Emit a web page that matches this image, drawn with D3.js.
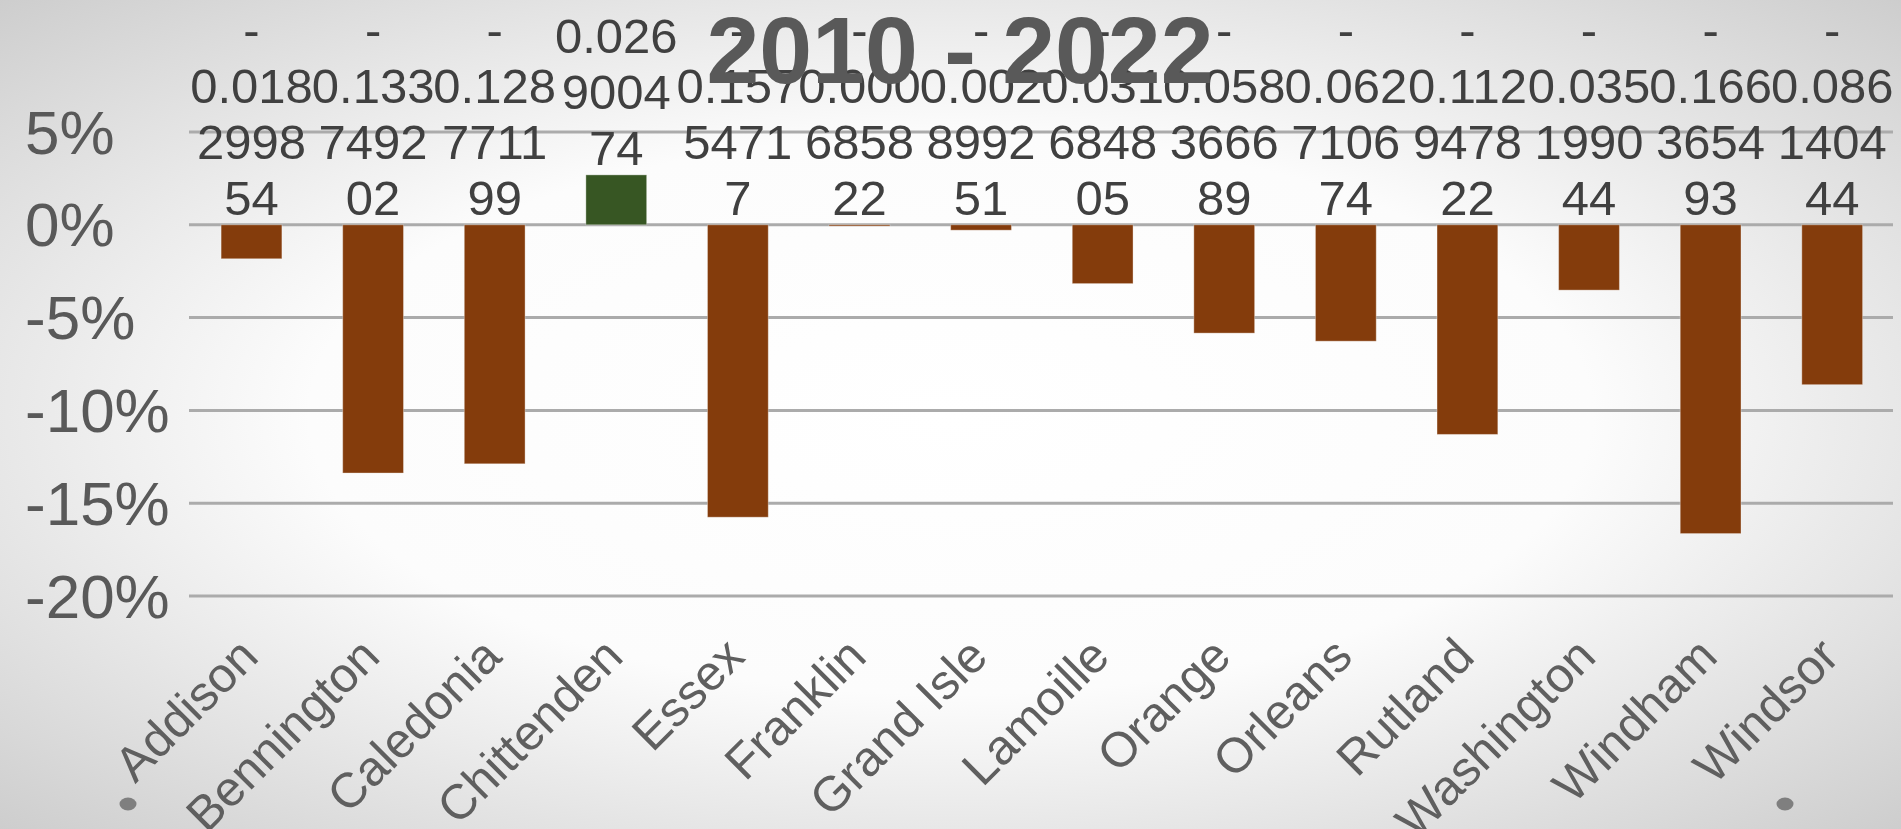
<!DOCTYPE html>
<html>
<head>
<meta charset="utf-8">
<script src="https://cdn.jsdelivr.net/npm/d3@7"></script>
<style>
  html, body { margin: 0; padding: 0; overflow: hidden; }
  body { width: 1901px; height: 829px; }
  svg { display: block; }
</style>
</head>
<body>
<svg id="chart" width="1901" height="829"></svg>
<script>
// ---- data ----
const title = "2010 - 2022";
const categories = ["Addison", "Bennington", "Caledonia", "Chittenden", "Essex", "Franklin", "Grand Isle",
  "Lamoille", "Orange", "Orleans", "Rutland", "Washington", "Windham", "Windsor"];
const values = [-0.018299854, -0.133749202, -0.128771199, 0.026900474, -0.15754717, -0.000685822, -0.002899251,
  -0.031684805, -0.058366689, -0.062710674, -0.112947822, -0.035199044, -0.166365493, -0.086140444];
const yTicks = [0.05, 0, -0.05, -0.10, -0.15, -0.20];
const yTickLabels = ["5%", "0%", "-5%", "-10%", "-15%", "-20%"];

// ---- layout ----
const W = 1901, H = 829;
const svg = d3.select("#chart");
const defs = svg.append("defs");
const grad = defs.append("radialGradient").attr("id", "bg")
  .attr("cx", "50%").attr("cy", "50%").attr("r", "75%");
grad.append("stop").attr("offset", "0%").attr("stop-color", "#ffffff");
grad.append("stop").attr("offset", "45%").attr("stop-color", "#fcfcfc");
grad.append("stop").attr("offset", "100%").attr("stop-color", "#c8c8c8");
svg.append("rect").attr("width", W).attr("height", H).attr("fill", "url(#bg)");

const x = d3.scaleBand().domain(categories).range([190.7, 1893]).paddingInner(0.5).paddingOuter(0.25);
const y = d3.scaleLinear().domain([-0.20, 0.05]).range([596, 132]);

// gridlines
const grid = svg.append("g");
grid.selectAll("line").data(yTicks).join("line")
  .attr("x1", 189).attr("x2", 1893)
  .attr("y1", d => y(d)).attr("y2", d => y(d))
  .attr("stroke", "#ababab").attr("stroke-width", 3);

// y tick labels
svg.append("g").selectAll("text").data(yTicks).join("text")
  .attr("x", 25).attr("y", d => y(d))
  .attr("dominant-baseline", "central")
  .attr("font-family", "'Liberation Sans', Arial, sans-serif")
  .attr("font-size", 62).attr("fill", "#595959")
  .text((d, i) => yTickLabels[i]);

// bars
svg.append("g").selectAll("rect").data(values).join("rect")
  .attr("x", (d, i) => x(categories[i]))
  .attr("width", x.bandwidth())
  .attr("y", d => y(Math.max(0, d)))
  .attr("height", d => Math.max(1, Math.abs(y(d) - y(0))))
  .attr("fill", d => d >= 0 ? "#375623" : "#843C0C")
  .attr("stroke", "rgba(255,255,255,0.35)").attr("stroke-width", 1);

// data labels (wrapped like the original)
const labelFont = "49px 'Liberation Sans'";
const ctx = document.createElement("canvas").getContext("2d");
ctx.font = labelFont;
function wrapLabel(s, maxW) {
  const lines = [];
  let rest = s;
  if (rest.startsWith("-")) { lines.push("-"); rest = rest.slice(1); }
  let cur = "";
  for (const ch of rest) {
    if (cur && ctx.measureText(cur + ch).width > maxW) { lines.push(cur); cur = ch; }
    else cur += ch;
  }
  if (cur) lines.push(cur);
  return lines;
}
const lineH = 56;
const labels = svg.append("g");
values.forEach((v, i) => {
  const lines = wrapLabel(String(v), 126);
  const cx = x(categories[i]) + x.bandwidth() / 2;
  const baseY = y(Math.max(0, v)) - 10;
  const t = labels.append("text")
    .attr("text-anchor", "middle")
    .attr("font-family", "'Liberation Sans', Arial, sans-serif")
    .attr("font-size", 49).attr("fill", "#404040");
  lines.forEach((ln, k) => {
    t.append("tspan").attr("x", cx).attr("y", baseY - (lines.length - 1 - k) * lineH).text(ln);
  });
});

// x category labels, rotated
svg.append("g").selectAll("text").data(categories).join("text")
  .attr("transform", d => `translate(${x(d) + x.bandwidth() / 2 + 9},659) rotate(-45)`)
  .attr("text-anchor", "end")
  .attr("font-family", "'Liberation Sans', Arial, sans-serif")
  .attr("font-size", 49).attr("fill", "#5f5f5f")
  .text(d => d);

// title
svg.append("text")
  .attr("x", 960).attr("y", 83)
  .attr("text-anchor", "middle")
  .attr("font-family", "'Liberation Sans', Arial, sans-serif")
  .attr("font-weight", "bold").attr("font-size", 95).attr("fill", "#595959")
  .text(title);

// slide bullet dots
svg.append("g").selectAll("ellipse").data([128, 1785]).join("ellipse")
  .attr("cx", d => d).attr("cy", 804).attr("rx", 8.5).attr("ry", 6.5)
  .attr("fill", "#7f7f7f");
</script>
</body>
</html>
